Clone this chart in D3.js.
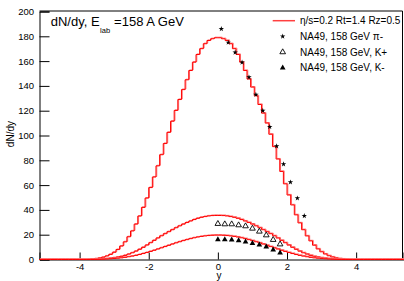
<!DOCTYPE html>
<html><head><meta charset="utf-8">
<script src="https://cdn.jsdelivr.net/npm/d3@7"></script>
<style>
html,body{margin:0;padding:0;background:#fff;}
svg{display:block;font-family:"Liberation Sans",Arial,sans-serif;}
</style></head>
<body>
<svg id="c" width="404" height="281"></svg>
<script>
// ---- data ----
const histMin = -5.16, histMax = 5.37, nBins = 100;
const pionHist = [
0,0,0,0,0,0,0,0,0,0,0,0,0,
0.1,0.3,0.6,1.1,1.8,2.8,4.1,5.8,8.0,10.8,
14.2,18.3,23.0,28.5,35.0,42.0,49.5,58.0,66.5,75.5,
84.5,93.5,102.5,111.5,120.2,129.0,137.0,144.9,152.4,159.1,
165.3,170.0,174.0,176.6,178.0,178.8,
178.8,178.0,176.6,174.0,170.0,165.3,159.1,152.4,145.5,139.0,
132.0,125.0,118.0,110.0,101.0,91.0,81.0,71.0,61.0,52.0,
44.0,36.0,29.5,24.0,19.0,15.0,11.5,8.5,6.2,4.4,
3.0,2.0,1.2,0.7,0.35,0.12,
0,0,0,0,0,0,0,0,0,0,0,0,0,0,0];
const kplusHist = [
0,0,0,0,0,0,0,0,0,0,0,0,0,0,
0.1,0.2,0.35,0.5,0.7,1.0,1.4,1.9,2.5,3.3,
4.3,5.4,6.7,8.2,9.8,11.6,13.5,15.4,17.3,19.1,
20.8,22.4,24.0,25.6,27.1,28.5,29.8,31.0,32.2,33.2,
34.0,34.6,35.1,35.4,35.5,
35.5,35.4,35.1,34.6,34.0,33.2,32.2,31.0,29.8,28.5,
27.1,25.6,24.0,22.4,20.8,19.1,17.3,15.4,13.5,11.6,
9.8,8.2,6.7,5.4,4.3,3.3,2.5,1.9,1.4,1.0,
0.7,0.5,0.35,0.2,0.1,
0,0,0,0,0,0,0,0,0,0,0,0,0,0,0,0];
const kminusHist = [
0,0,0,0,0,0,0,0,0,0,0,0,0,0,
0.05,0.1,0.18,0.28,0.4,0.55,0.75,1.0,1.3,1.7,
2.2,2.7,3.3,4.0,4.8,5.6,6.5,7.4,8.4,9.4,
10.4,11.4,12.4,13.4,14.3,15.2,16.0,16.8,17.5,18.1,
18.6,19.0,19.3,19.5,19.6,
19.6,19.5,19.3,19.0,18.6,18.1,17.5,16.8,16.0,15.2,
14.3,13.4,12.4,11.4,10.4,9.4,8.4,7.4,6.5,5.6,
4.8,4.0,3.3,2.7,2.2,1.7,1.3,1.0,0.75,0.55,
0.4,0.28,0.18,0.1,0.05,
0,0,0,0,0,0,0,0,0,0,0,0,0,0,0,0];

const piY   = [0.1,0.3,0.5,0.7,0.9,1.1,1.3,1.5,1.7,1.9,2.1,2.3,2.5];
const piVal = [186,175,167,159,147,133,120,107,91.4,76.9,62.3,49.4,35.2];
const kY     = [0.0,0.2,0.4,0.6,0.8,1.0,1.2,1.4,1.6,1.8];
const kpVal  = [28.8,28.5,28.5,27.7,26.9,25.0,22.6,19.6,15.9,12.3];
const kmVal  = [16.1,16.1,15.9,15.3,14.3,13.1,11.9,10.2,7.8,5.4];

const yMajor = [0,20,40,60,80,100,120,140,160,180,200];
const xMajor = [-4,-2,0,2,4];
const legendLabels = ["η/s=0.2 Rt=1.4 Rz=0.5","NA49, 158 GeV π-","NA49, 158 GeV, K+","NA49, 158 GeV, K-"];

// ---- drawing ----
const svg = d3.select("#c");
svg.append("rect").attr("width",404).attr("height",281).attr("fill","#fff");
const x = d3.scaleLinear().domain([histMin, histMax]).range([39.5, 403.5]);
const y = d3.scaleLinear().domain([0, 200]).range([259.5, 11.5]);

// frame (top/right)
svg.append("path").attr("d",`M39.5,${y(200)-0.5}H402.5V259.5`).attr("fill","none").attr("stroke","#000").attr("stroke-width",1);

const yMinor = d3.range(0,201,4).filter(v=>v%20!==0);
const xMinor = d3.range(-5,5.01,0.5).filter(v=>Math.abs(v%2)>1e-6);
const FONT = "Liberation Sans, Arial, sans-serif";

const gy = svg.append("g").attr("transform","translate(39.5,0)");
gy.call(d3.axisLeft(y).tickValues(yMinor).tickSize(-5).tickFormat(""));
gy.call(d3.axisLeft(y).tickValues(yMajor).tickSize(-10).tickPadding(5.5).tickFormat(d=>String(d)));
gy.selectAll("text").attr("font-size",9.5).attr("font-family",FONT).attr("fill","#000");

const gx = svg.append("g").attr("transform","translate(0,259.5)");
gx.call(d3.axisBottom(x).tickValues(xMinor).tickSize(-3.5).tickFormat(""));
gx.call(d3.axisBottom(x).tickValues(xMajor).tickSize(-7).tickPadding(3.8).tickFormat(d=>String(d)));
gx.selectAll("text").attr("font-size",9.5).attr("font-family",FONT).attr("fill","#000");
svg.selectAll(".domain").attr("stroke","#000");

// axis titles
svg.append("text").attr("transform","translate(14,121) rotate(-90)").attr("text-anchor","end")
  .attr("font-size",10).text("dN/dy");
svg.append("text").attr("x",219).attr("y",278.5).attr("text-anchor","middle").attr("font-size",10).text("y");

// histograms
const bw = (histMax-histMin)/nBins;
function stepPts(arr){
  const pts = arr.map((v,i)=>[histMin+i*bw, v]);
  pts.push([histMax, arr[arr.length-1]]);
  return pts;
}
const line = d3.line().x(d=>x(d[0])).y(d=>y(d[1])).curve(d3.curveStepAfter);
[pionHist,kplusHist,kminusHist].forEach(h=>{
  svg.append("path").attr("d",line(stepPts(h))).attr("fill","none")
    .attr("stroke","#ff7070").attr("stroke-width",1).attr("transform","translate(0.8,-0.6)");
  svg.append("path").attr("d",line(stepPts(h))).attr("fill","none")
    .attr("stroke","#ff0000").attr("stroke-width",1);
});

// data points
const star = d3.symbol().type(d3.symbolStar).size(9);
const tri = d3.symbol().type(d3.symbolTriangle).size(14);
svg.append("g").selectAll("path").data(piY).join("path")
  .attr("transform",(d,i)=>`translate(${x(d)},${y(piVal[i])})`).attr("d",star).attr("fill","#000");
svg.append("g").selectAll("path").data(kY).join("path")
  .attr("transform",(d,i)=>`translate(${x(d)},${y(kpVal[i])})`).attr("d",tri)
  .attr("fill","#fff").attr("stroke","#000").attr("stroke-width",0.9);
svg.append("g").selectAll("path").data(kY).join("path")
  .attr("transform",(d,i)=>`translate(${x(d)},${y(kmVal[i])})`).attr("d",tri).attr("fill","#000");

// title
const t = svg.append("text").attr("x",50.7).attr("y",26).attr("font-size",13);
t.append("tspan").text("dN/dy, E");
t.append("tspan").attr("font-size",7.5).attr("dy",7).attr("dx",0.5).text("lab");
t.append("tspan").attr("dy",-7).attr("dx",4).text("=158 A GeV");

// legend
const rows = [20.7, 36.4, 52.1, 67.8];
const lg = svg.append("g");
lg.append("line").attr("x1",272.7).attr("x2",295).attr("y1",rows[0]).attr("y2",rows[0])
  .attr("stroke","#ff4040").attr("stroke-width",1.5);
lg.append("path").attr("transform",`translate(282.7,${rows[1]})`).attr("d",star).attr("fill","#000");
lg.append("path").attr("transform",`translate(282.7,${rows[2]})`).attr("d",tri).attr("fill","#fff").attr("stroke","#000").attr("stroke-width",0.9);
lg.append("path").attr("transform",`translate(282.7,${rows[3]})`).attr("d",tri).attr("fill","#000");
lg.selectAll("text.l").data(legendLabels).join("text").attr("class","l")
  .attr("x",300).attr("y",(d,i)=>rows[i]+3.6).attr("font-size",10).text(d=>d);
</script>
</body></html>
